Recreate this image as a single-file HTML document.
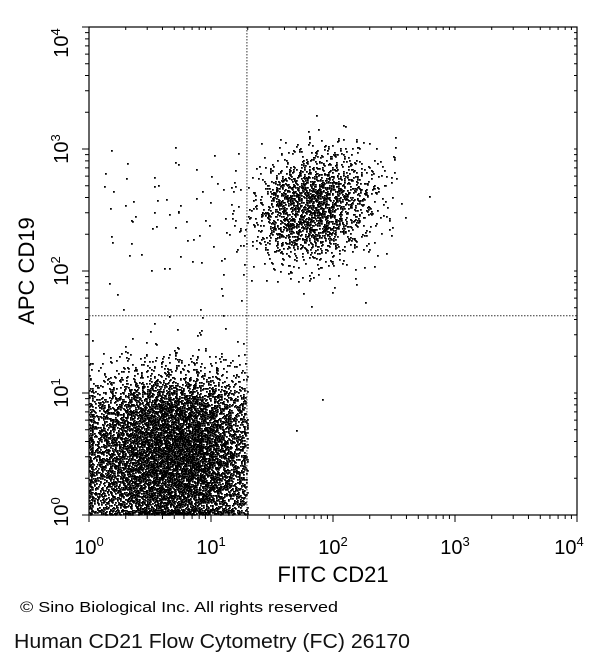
<!DOCTYPE html>
<html><head><meta charset="utf-8">
<style>
html,body{margin:0;padding:0;background:#fff;}
svg{display:block;font-family:"Liberation Sans",Arial,sans-serif;}
</style></head>
<body>
<svg id="chart" width="603" height="665" viewBox="0 0 603 665">
  <g id="dots"></g>
  <g id="ticks"></g>
  <g id="labels"></g>
  <rect x="89" y="27" width="488" height="488" fill="none" stroke="#000" stroke-width="1.2"/>
  <line id="gateV" stroke="#333" stroke-width="1" stroke-dasharray="1.5,1.5"/>
  <line id="gateH" stroke="#333" stroke-width="1" stroke-dasharray="1.5,1.5"/>
  <text x="333" y="582" font-size="22" text-anchor="middle">FITC CD21</text>
  <text transform="translate(34,271) rotate(-90)" font-size="22" text-anchor="middle">APC CD19</text>
  <text x="20" y="612" font-size="15" textLength="318" lengthAdjust="spacingAndGlyphs">© Sino Biological Inc. All rights reserved</text>
  <text x="14" y="648" font-size="20" fill="#111" textLength="396" lengthAdjust="spacingAndGlyphs">Human CD21 Flow Cytometry (FC) 26170</text>
</svg>
<script>
// ---- data ----
const decadeTicks = [0, 1, 2, 3, 4];
const tickLabelExps = ["0", "1", "2", "3", "4"];
const gateX = 19.7;   // FITC gate value
const gateY = 43;     // APC gate value
const binWidth = 0.25; // decades per density bin
// density rows: event counts per 0.25-decade bin, row0 = lowest APC bin, columns = FITC bins 0..15
const row0  = [260,420,520,490,320,0,0,0,0,0,0,0,0,0,0,0];
const row1  = [320,520,650,620,380,0,0,0,0,0,0,0,0,0,0,0];
const row2  = [300,520,680,650,380,2,1,0,0,0,0,0,0,0,0,0];
const row3  = [200,380,520,480,280,2,0,0,0,0,0,0,0,0,0,0];
const row4  = [40,80,120,110,70,2,0,1,0,0,0,0,0,0,0,0];
const row5  = [3,5,8,8,5,1,0,0,0,0,0,0,0,0,0,0];
const row6  = [1,1,2,2,1,1,0,0,0,0,0,0,0,0,0,0];
const row7  = [1,0,1,1,2,1,3,3,2,0,0,0,0,0,0,0];
const row8  = [1,2,3,3,5,12,50,50,18,3,0,0,0,0,0,0];
const row9  = [2,4,4,5,6,45,300,330,110,12,1,0,0,0,0,0];
const row10 = [3,4,4,4,6,25,290,420,200,30,1,0,0,0,0,0];
const row11 = [1,2,3,2,3,3,45,110,70,16,0,0,0,0,0,0];
const row12 = [0,0,0,0,0,0,1,4,5,1,0,0,0,0,0,0];
const row13 = [0,0,0,0,0,0,0,0,0,0,0,0,0,0,0,0];
const row14 = [0,0,0,0,0,0,0,0,0,0,0,0,0,0,0,0];
const row15 = [0,0,0,0,0,0,0,0,0,0,0,0,0,0,0,0];
const densityRows = [row0,row1,row2,row3,row4,row5,row6,row7,row8,row9,row10,row11,row12,row13,row14,row15];

// ---- scales ----
const NS = "http://www.w3.org/2000/svg";
const X0 = 89, X1 = 577, Y0 = 515, Y1 = 27;
function xs(d){ return X0 + (d / 4) * (X1 - X0); }   // d = log10 value
function ys(d){ return Y0 - (d / 4) * (Y0 - Y1); }

function halton(i, b){ let f = 1, r = 0; while (i > 0){ f /= b; r += f * (i % b); i = Math.floor(i / b); } return r; }
function spread(a, b){ return a + b - 0.5; }

const gateXpx = xs(Math.log10(gateX));
const gateYlog = Math.log10(gateY);
const dots = document.getElementById('dots');
let path = "";
let hi = 1;
const DOT = 1.8;
densityRows.forEach((row, j) => {
  row.forEach((count, i) => {
    const lowerLeft = (i + 1) * binWidth <= Math.log10(gateX) + 0.25 && (j * binWidth) < gateYlog;
    for (let k = 0; k < count; k++){
      const u = spread(halton(hi, 2), halton(hi, 5));
      const v = spread(halton(hi, 3), halton(hi, 7)); hi++;
      let px = Math.round(xs((i + u) * binWidth));
      let py = Math.round(ys((j + v) * binWidth));
      if (px < X0) px = X0 + ((X0 - px) % 4);
      if (py > Y0 - 2) py = Y0 - 2 - ((py - Y0) % 4);
      if (lowerLeft && px > gateXpx - 2) px = Math.round(gateXpx - 2 - ((px - gateXpx) % 6));
      path += "M" + px + " " + py + "h" + DOT + "v" + DOT + "h-" + DOT + "z";
    }
  });
});
const p = document.createElementNS(NS, 'path');
p.setAttribute('d', path);
p.setAttribute('fill', '#000');


dots.appendChild(p);

// gates
const gv = document.getElementById('gateV');
gv.setAttribute('x1', gateXpx); gv.setAttribute('x2', gateXpx);
gv.setAttribute('y1', Y1); gv.setAttribute('y2', Y0);
const gh = document.getElementById('gateH');
gh.setAttribute('x1', X0); gh.setAttribute('x2', X1);
gh.setAttribute('y1', ys(gateYlog)); gh.setAttribute('y2', ys(gateYlog));

// ticks
const ticks = document.getElementById('ticks');
let tp = "";
for (let d = 0; d < 4; d++){
  for (let m = 1; m <= 10; m++){
    const L = d + Math.log10(m);
    if (m === 10 && d < 3) continue;
    const len = (m === 1 || m === 10) ? 7 : 4;
    const x = xs(L), y = ys(L);
    tp += "M" + x + " " + Y0 + "v" + len;
    tp += "M" + X0 + " " + y + "h-" + len;
    tp += "M" + x + " " + Y1 + "v3";
    tp += "M" + X1 + " " + y + "h-3";
  }
}
const tk = document.createElementNS(NS, 'path');
tk.setAttribute('d', tp);
tk.setAttribute('stroke', '#000');
tk.setAttribute('stroke-width', '1');
tk.setAttribute('fill', 'none');


ticks.appendChild(tk);

// tick labels
const labels = document.getElementById('labels');
decadeTicks.forEach((d, i) => {
  let cx = xs(d); if (i === 4) cx -= 8;
  const t = document.createElementNS(NS, 'text');
  t.setAttribute('x', cx); t.setAttribute('y', 554);
  t.setAttribute('font-size', '20'); t.setAttribute('text-anchor', 'middle');
  
  
  t.innerHTML = '10<tspan dy="-8" font-size="13">' + tickLabelExps[i] + '</tspan>';
  labels.appendChild(t);

  let cy = ys(d); if (i === 4) cy += 16; if (i === 0) cy -= 3;
  const ty = document.createElementNS(NS, 'text');
  ty.setAttribute('transform', 'translate(68,' + cy + ') rotate(-90)');
  ty.setAttribute('font-size', '20'); ty.setAttribute('text-anchor', 'middle');
  
  
  ty.innerHTML = '10<tspan dy="-8" font-size="13">' + tickLabelExps[i] + '</tspan>';
  labels.appendChild(ty);
});
</script>
</body></html>
